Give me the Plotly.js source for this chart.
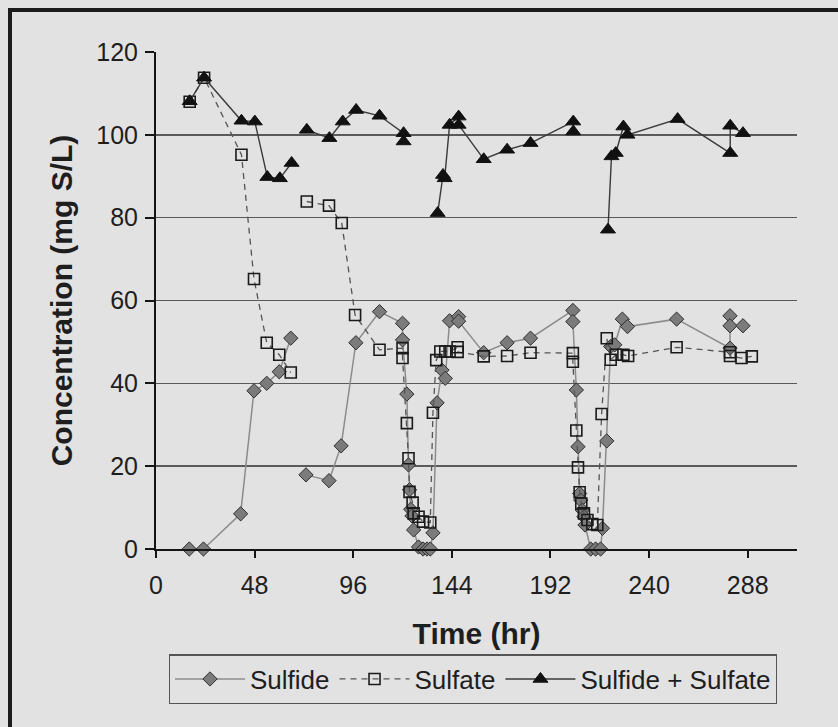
<!DOCTYPE html>
<html>
<head>
<meta charset="utf-8">
<script src="https://cdn.plot.ly/plotly-3.0.1.min.js"></script>
<style>
  html, body { margin: 0; padding: 0; width: 838px; height: 727px; overflow: hidden; background: #e2e2e2; }
  #frame { position: absolute; left: 8px; top: 8px; width: 900px; height: 800px;
           border-left: 4px solid #1c1c1c; border-top: 4px solid #1c1c1c; }
  #chart { position: absolute; left: 0; top: 0; width: 838px; height: 727px; }
</style>
</head>
<body>
<div id="frame"></div>
<div id="chart"></div>
<script>
// Sulfide concentration over time (mg S/L); null marks a break between runs
const tSulfide = [16.2, 23.1, 41.2, 47.7, 53.9, 60.0, 65.6, 69, 73.0, 84.2, 90.1, 97.3, 108.8, 120.0, 120.0,
  122.1, 122.9, 123.4, 124.0, 124.6, 125.4, 127.8, 130.0, 131.9, 133.5, 134.8, 136.8, 139.2, 140.8, 142.9,
  147.3, 147.3, 159.5, 170.9, 182.3, 202.9, 202.9, 204.6, 205.4, 206.2, 206.7, 207.5, 208.3, 208.8, 211.6,
  214.0, 216.4, 217.3, 219.4, 221.3, 223.3, 227.0, 229.5, 253.4, 279.4, 279.4, 279.4, 285.7];
const sulfide = [0, 0, 8.5, 38.2, 40.0, 42.8, 50.9, null, 17.9, 16.5, 24.9, 49.8, 57.3, 54.5, 50.5,
  37.4, 20.3, 14.3, 9.6, 8.0, 4.6, 0.5, 0, 0, 0, 3.9, 35.3, 43.2, 41.2, 55.1,
  56.1, 55.0, 47.4, 49.8, 50.9, 57.6, 54.9, 38.4, 24.7, 13.4, 11.8, 9.4, 7.8, 5.8, 0,
  0, 0, 5.0, 26.1, 48.9, 49.3, 55.5, 53.7, 55.5, 48.5, 56.3, 53.9, 53.9];

// Sulfate concentration over time (mg S/L)
const tSulfate = [16.4, 23.4, 41.6, 47.7, 53.9, 60.0, 65.6, 69, 73.4, 84.2, 90.4, 96.9, 108.8, 120.0, 120.0,
  122.1, 122.9, 123.4, 124.9, 125.4, 127.8, 130.0, 133.5, 134.8, 136.4, 138.4, 140.8, 142.9, 146.8, 146.8,
  159.5, 170.9, 182.3, 202.9, 202.9, 204.6, 205.4, 206.2, 207.0, 208.3, 210.0, 212.4, 214.8, 216.9, 219.4,
  221.3, 223.8, 227.5, 229.8, 253.4, 279.4, 279.4, 285.0, 290.0];
const sulfate = [108.0, 113.8, 95.2, 65.2, 49.8, 46.9, 42.6, null, 83.9, 82.9, 78.7, 56.5, 48.1, 48.5, 46.1,
  30.4, 21.9, 13.8, 11.2, 8.6, 7.8, 6.6, 6.4, 32.9, 45.6, 47.7, 47.7, 47.7, 48.7, 47.6,
  46.5, 46.6, 47.4, 47.3, 45.2, 28.6, 19.7, 13.7, 11.0, 8.6, 7.0, 6.0, 5.8, 32.6, 50.9,
  45.7, 46.9, 46.9, 46.6, 48.7, 47.5, 46.6, 46.1, 46.5];

// Total (sulfide + sulfate); not reported during the rapid transitions
const tTotal = [16.4, 23.4, 41.6, 48.1, 54.2, 60.3, 66.0, 69, 73.4, 84.4, 90.9, 97.4, 108.8, 120.5, 120.5,
  129, 137.1, 139.7, 140.5, 142.9, 147.3, 147.3, 159.5, 170.9, 182.3, 203.1, 203.1, 212,
  220.0, 221.7, 223.8, 227.5, 229.5, 253.9, 279.5, 279.5, 285.7];
const total = [108.1, 113.8, 103.4, 103.2, 89.8, 89.5, 93.2, null, 101.2, 99.2, 103.2, 106.0, 104.6, 100.4, 98.4,
  null, 81.1, 90.3, 89.5, 102.4, 104.4, 102.4, 94.1, 96.4, 98.0, 103.2, 100.8, null,
  77.1, 94.8, 95.6, 102.0, 100.0, 103.8, 95.6, 102.2, 100.4];

const xTicks = [0, 48, 96, 144, 192, 240, 288];
const yTicks = [0, 20, 40, 60, 80, 100, 120];

const FONT = '"Liberation Sans", Arial, sans-serif';

const traces = [
  {
    x: tSulfide, y: sulfide, name: 'Sulfide', type: 'scatter', mode: 'lines+markers',
    connectgaps: false, cliponaxis: false,
    line: { color: '#8c8c8c', width: 1.5 },
    marker: { symbol: 'diamond', size: 11, color: '#7b7b7b', line: { color: '#2e2e2e', width: 1 } }
  },
  {
    x: tSulfate, y: sulfate, name: 'Sulfate', type: 'scatter', mode: 'lines+markers',
    connectgaps: false, cliponaxis: false,
    line: { color: '#555555', width: 1.3, dash: '6px,5px' },
    marker: { symbol: 'square', size: 11, color: 'rgba(0,0,0,0)', line: { color: '#1a1a1a', width: 1.6 } }
  },
  {
    x: tTotal, y: total, name: 'Sulfide + Sulfate', type: 'scatter', mode: 'lines+markers',
    connectgaps: false, cliponaxis: false,
    line: { color: '#3a3a3a', width: 1.4 },
    marker: { symbol: 'triangle-up', size: 13, color: '#111111', line: { color: '#111111', width: 1 } }
  }
];

const layout = {
  width: 838, height: 727,
  margin: { l: 156, r: 41, t: 52, b: 178 },
  paper_bgcolor: 'rgba(0,0,0,0)',
  plot_bgcolor: 'rgba(0,0,0,0)',
  font: { family: FONT, color: '#1e1e1e', size: 25 },
  showlegend: true,
  legend: {
    orientation: 'h', x: 0.02, xanchor: 'left', y: -0.212, yanchor: 'top',
    bgcolor: 'rgba(0,0,0,0)', bordercolor: '#555555', borderwidth: 1.2,
    font: { family: FONT, size: 26, color: '#1e1e1e' },
    itemwidth: 70, traceorder: 'normal'
  },
  xaxis: {
    range: [0, 312], tickvals: xTicks, ticktext: xTicks.map(String),
    showgrid: false, zeroline: false,
    showline: true, linecolor: '#151515', linewidth: 2,
    ticks: 'outside', ticklen: 7, tickwidth: 2, tickcolor: '#151515',
    tickfont: { family: FONT, size: 25, color: '#1e1e1e' },
    ticklabelstandoff: 6,
    title: { text: '<b>Time (hr)</b>', font: { family: FONT, size: 30, color: '#1e1e1e' }, standoff: 25 }
  },
  yaxis: {
    range: [0, 120], tickvals: yTicks, ticktext: yTicks.map(String),
    showgrid: true, gridcolor: '#5a5a5a', gridwidth: 1.5, zeroline: false,
    showline: true, linecolor: '#151515', linewidth: 2,
    ticks: 'outside', ticklen: 9, tickwidth: 2, tickcolor: '#151515',
    tickfont: { family: FONT, size: 25, color: '#1e1e1e' },
    ticklabelstandoff: 2,
    title: { text: '<b>Concentration (mg S/L)</b>', font: { family: FONT, size: 30, color: '#1e1e1e' }, standoff: 15 }
  }
};

Plotly.newPlot('chart', traces, layout, { displayModeBar: false, staticPlot: true });
</script>
</body>
</html>
